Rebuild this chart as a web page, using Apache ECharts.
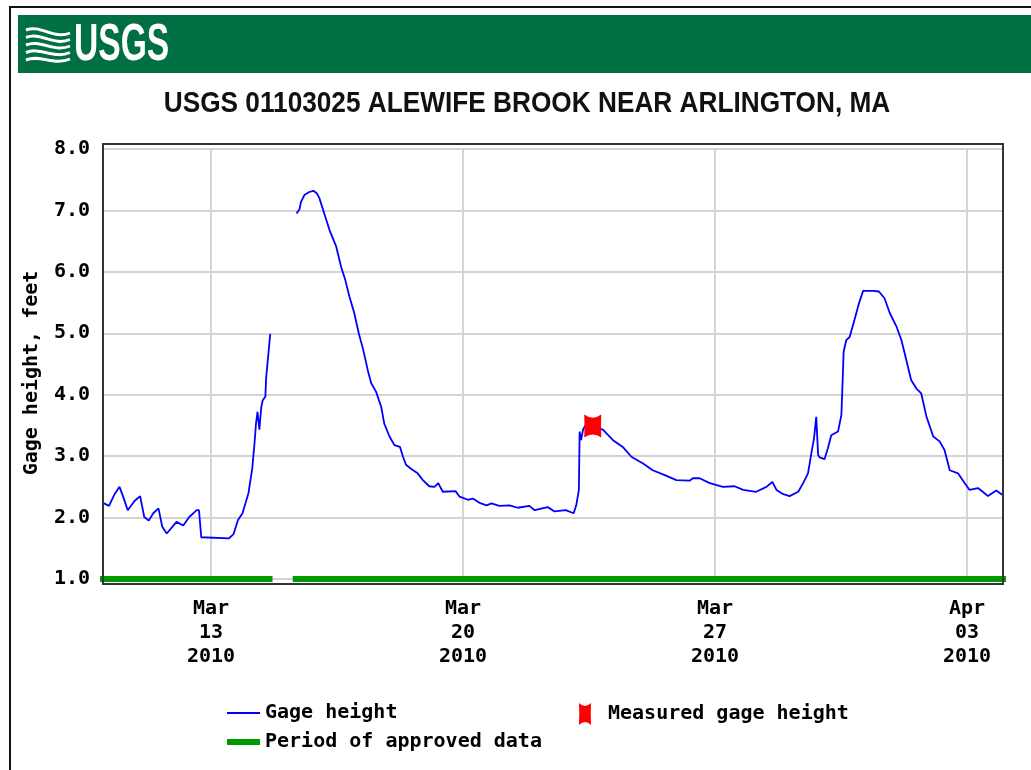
<!DOCTYPE html>
<html>
<head>
<meta charset="utf-8">
<title>USGS 01103025 Alewife Brook near Arlington, MA</title>
<script src="https://cdn.jsdelivr.net/npm/echarts@6/dist/echarts.min.js"></script>
<style>
    html, body { margin: 0; padding: 0; background: #fff; }
    #chart { width: 1031px; height: 770px; }
</style>
</head>
<body>
<div id="chart"></div>
<script>
// gage height, before the gap (times are 2010, local)
const gageTimesA = ['03-10 00:00', '03-10 04:00', '03-10 07:30', '03-10 11:00', '03-10 13:00', '03-10 16:30',
    '03-10 21:00', '03-11 00:45', '03-11 03:30', '03-11 06:30', '03-11 09:30', '03-11 13:00', '03-11 15:30',
    '03-11 18:30', '03-12 01:00', '03-12 05:30', '03-12 09:30', '03-12 14:30', '03-12 16:00', '03-12 17:30',
    '03-13 12:00', '03-13 15:00', '03-13 18:00', '03-13 21:00', '03-14 01:00', '03-14 03:30', '03-14 05:00',
    '03-14 06:00', '03-14 07:00', '03-14 08:15', '03-14 09:30', '03-14 10:30', '03-14 12:15', '03-14 12:45',
    '03-14 14:30', '03-14 15:30']
const gageValuesA = [2.24, 2.19, 2.37, 2.50, 2.37, 2.12,
    2.27, 2.35, 2.01, 1.95, 2.07, 2.15, 1.85,
    1.74, 1.93, 1.87, 2.01, 2.12, 2.12, 1.68,
    1.66, 1.73, 1.96, 2.07, 2.40, 2.80, 3.21,
    3.53, 3.72, 3.43, 3.80, 3.91, 3.97, 4.27,
    4.73, 4.99]

// gage height, after the gap
const gageTimesB = ['03-15 09:00', '03-15 11:00', '03-15 12:00', '03-15 14:15', '03-15 17:30', '03-15 20:15',
    '03-15 22:30', '03-16 00:15', '03-16 03:30', '03-16 07:00', '03-16 11:30', '03-16 14:45', '03-16 17:30',
    '03-16 20:15', '03-16 23:30', '03-17 02:30', '03-17 05:30', '03-17 08:30', '03-17 10:45', '03-17 14:00',
    '03-17 17:30', '03-17 19:30', '03-17 23:00', '03-18 02:15', '03-18 06:00', '03-18 08:00', '03-18 10:00',
    '03-18 13:30', '03-18 17:45', '03-18 21:15', '03-19 01:30', '03-19 05:00', '03-19 07:30', '03-19 10:30',
    '03-19 19:00', '03-19 21:45', '03-20 03:15', '03-20 06:30', '03-20 11:00', '03-20 15:45', '03-20 19:00',
    '03-21 00:15', '03-21 07:00', '03-21 12:30', '03-21 20:15', '03-21 23:45', '03-22 08:30', '03-22 13:00',
    '03-22 20:30', '03-23 01:45', '03-23 03:30', '03-23 05:15', '03-23 05:45', '03-23 06:45', '03-23 08:00',
    '03-23 09:45', '03-23 21:15', '03-24 04:00', '03-24 10:30', '03-24 16:15', '03-25 00:00', '03-25 06:30',
    '03-25 14:30', '03-25 22:15', '03-26 07:00', '03-26 09:15', '03-26 13:45', '03-26 20:30', '03-27 05:15',
    '03-27 13:00', '03-27 18:45', '03-28 03:30', '03-28 10:15', '03-28 14:15', '03-28 17:00', '03-28 21:30',
    '03-29 01:45', '03-29 07:30', '03-29 10:45', '03-29 14:00', '03-29 16:15', '03-29 18:00', '03-29 19:30',
    '03-29 20:45', '03-29 21:45', '03-30 01:00', '03-30 03:15', '03-30 05:30', '03-30 10:00', '03-30 12:15',
    '03-30 13:00', '03-30 13:45', '03-30 15:30', '03-30 17:45', '03-30 21:00', '03-31 00:00', '03-31 02:45',
    '03-31 09:15', '03-31 13:15', '03-31 17:00', '03-31 20:30', '04-01 01:00', '04-01 04:15', '04-01 07:30',
    '04-01 10:45', '04-01 14:15', '04-01 17:30', '04-01 21:00', '04-02 01:30', '04-02 05:45', '04-02 09:00',
    '04-02 12:30', '04-02 18:00', '04-02 22:30', '04-03 01:45', '04-03 07:15', '04-03 09:30', '04-03 14:00',
    '04-03 19:30', '04-03 23:00', '04-04 00:00']
const gageValuesB = [6.95, 7.02, 7.14, 7.25, 7.30, 7.32,
    7.28, 7.20, 6.95, 6.68, 6.41, 6.08, 5.87,
    5.60, 5.33, 5.00, 4.73, 4.40, 4.19, 4.05,
    3.80, 3.53, 3.32, 3.18, 3.15, 2.99, 2.86,
    2.79, 2.72, 2.61, 2.51, 2.50, 2.56, 2.42,
    2.43, 2.34, 2.29, 2.31, 2.24, 2.20, 2.23,
    2.19, 2.20, 2.16, 2.19, 2.12, 2.17, 2.10,
    2.12, 2.07, 2.20, 2.45, 3.40, 3.26, 3.43,
    3.51, 3.43, 3.26, 3.15, 2.99, 2.88, 2.77,
    2.69, 2.61, 2.60, 2.64, 2.64, 2.56, 2.50,
    2.51, 2.45, 2.42, 2.50, 2.58, 2.45, 2.38,
    2.35, 2.42, 2.56, 2.72, 3.05, 3.29, 3.64,
    3.02, 2.98, 2.95, 3.13, 3.34, 3.40, 3.67,
    4.16, 4.70, 4.89, 4.94, 5.22, 5.49, 5.69,
    5.69, 5.68, 5.57, 5.33, 5.11, 4.89, 4.57,
    4.24, 4.10, 4.02, 3.64, 3.32, 3.24, 3.10,
    2.77, 2.72, 2.56, 2.45, 2.48, 2.44, 2.35,
    2.44, 2.38, 2.38]

// field measurement
const measuredTimes = ['03-23 14:30']
const measuredValues = [3.49]

// approved data periods (drawn along 1.0)
const approvedStarts = ['03-10 00:00', '03-15 08:30']
const approvedEnds = ['03-14 15:00', '04-04 00:00']

const tickDates = ['03-13 00:00', '03-20 00:00', '03-27 00:00', '04-03 00:00']
const tickLabels = ['Mar\n13\n2010', 'Mar\n20\n2010', 'Mar\n27\n2010', 'Apr\n03\n2010']

const MONO = '"DejaVu Sans Mono", "Liberation Mono", monospace'
const SANS = '"Liberation Sans", Arial, sans-serif'
// rectangle with notched top and bottom edges
const MARK = 'path://M0,0 Q8,6 16,0 Q15.5,11 16,22 Q8,16 0,22 Q0.5,11 0,0 Z'
const MARK_LEGEND = 'path://M0,0 Q6,6 12,0 Q11.5,11 12,22 Q6,16 0,22 Q0.5,11 0,0 Z'

const toTime = s => new Date('2010/' + s.replace('-', '/')).getTime()
const tickTimes = tickDates.map(toTime)

const gageData = gageTimesA.map((t, i) => [toTime(t), gageValuesA[i]])
    .concat([[toTime('03-14 20:00'), '-']])
    .concat(gageTimesB.map((t, i) => [toTime(t), gageValuesB[i]]))

const approvedData = []
approvedStarts.forEach((s, i) => {
    if (i > 0) approvedData.push([toTime(s) - 1, '-'])
    approvedData.push([toTime(s), 1], [toTime(approvedEnds[i]), 1])
})

const labelFont = { fontFamily: MONO, fontSize: 20, fontWeight: 'bold', color: '#000' }
const gridLine = { show: true, lineStyle: { color: '#d4d4d4', width: 2 } }

const chart = echarts.init(document.getElementById('chart'), null, { renderer: 'canvas' })

// wavy lines of the logo
const waves = [0, 1, 2, 3, 4].map(i => ({
    type: 'bezierCurve',
    shape: {
        x1: 26, y1: 30 + i * 7.5, x2: 70, y2: 33 + i * 6.5,
        cpx1: 40, cpy1: 24 + i * 7.5, cpx2: 54, cpy2: 40 + i * 6.5
    },
    style: { stroke: '#fff', lineWidth: 3, fill: null }
}))

chart.setOption({
    backgroundColor: '#fff',
    animation: false,
    grid: { left: 103, right: 28, top: 149, bottom: 191, outerBoundsMode: 'none' },
    // x is a plain value axis in ms so the weekly ticks can sit on Mar 13, 20, 27, Apr 3
    xAxis: {
        type: 'value',
        min: toTime('03-10 00:00'),
        max: toTime('04-04 00:00'),
        axisLine: { show: false },
        axisTick: { show: false, customValues: tickTimes },
        axisLabel: Object.assign({
            customValues: tickTimes,
            margin: 18,
            lineHeight: 24,
            formatter: v => {
                let best = 0
                tickTimes.forEach((t, i) => { if (Math.abs(t - v) < Math.abs(tickTimes[best] - v)) best = i })
                return tickLabels[best]
            }
        }, labelFont),
        splitLine: gridLine
    },
    yAxis: {
        type: 'value',
        min: 1,
        max: 8,
        interval: 1,
        axisLine: { show: false },
        axisTick: { show: false },
        axisLabel: Object.assign({ margin: 13, formatter: v => v.toFixed(1) }, labelFont),
        splitLine: gridLine
    },
    legend: [
        {
            data: [{ name: 'Gage height', icon: 'rect' }],
            left: 222, top: 698, itemWidth: 33, itemHeight: 2,
            selectedMode: false, textStyle: labelFont
        },
        {
            data: [{ name: 'Measured gage height', icon: MARK_LEGEND }],
            left: 574, top: 698, itemWidth: 12, itemHeight: 22,
            selectedMode: false, textStyle: Object.assign({ padding: [0, 0, 0, 12] }, labelFont)
        },
        {
            data: [{ name: 'Period of approved data', icon: 'rect' }],
            left: 222, top: 727, itemWidth: 33, itemHeight: 6,
            selectedMode: false, textStyle: labelFont
        }
    ],
    graphic: [
        // page frame
        { type: 'rect', shape: { x: 10, y: 7, width: 1040, height: 780 }, style: { fill: null, stroke: '#111', lineWidth: 2 }, silent: true },
        // header band
        { type: 'rect', shape: { x: 18, y: 15, width: 1020, height: 58 }, style: { fill: '#006f41' }, silent: true },
        ...waves,
        {
            type: 'text', x: 74, y: 46, scaleX: 0.646,
            style: { text: 'USGS', fill: '#fff', font: 'bold 52px ' + SANS, textVerticalAlign: 'middle' }
        },
        {
            type: 'text', x: 527, y: 104, scaleX: 0.874,
            style: {
                text: 'USGS 01103025 ALEWIFE BROOK NEAR ARLINGTON, MA', fill: '#111',
                font: 'bold 30px ' + SANS, textAlign: 'center', textVerticalAlign: 'middle'
            }
        },
        {
            type: 'text', x: 32, y: 373, rotation: Math.PI / 2,
            style: {
                text: 'Gage height, feet', fill: '#000', font: 'bold 20px ' + MONO,
                textAlign: 'center', textVerticalAlign: 'middle'
            }
        },
        // plot frame
        { type: 'rect', shape: { x: 103, y: 144, width: 900, height: 440 }, style: { fill: null, stroke: '#333', lineWidth: 2 }, silent: true, z: 10 }
    ],
    series: [
        {
            name: 'Period of approved data',
            type: 'line',
            data: approvedData,
            showSymbol: false,
            symbol: 'none',
            clip: false,
            itemStyle: { color: '#009900' },
            lineStyle: { color: '#009900', width: 6, cap: 'square' },
            z: 3
        },
        {
            name: 'Gage height',
            type: 'line',
            data: gageData,
            showSymbol: false,
            symbol: 'none',
            connectNulls: false,
            itemStyle: { color: '#0000ff' },
            lineStyle: { color: '#0000ff', width: 1.8 },
            z: 4
        },
        {
            name: 'Measured gage height',
            type: 'scatter',
            data: measuredTimes.map((t, i) => [toTime(t), measuredValues[i]]),
            symbol: MARK,
            symbolSize: [17, 23],
            itemStyle: { color: '#ff0000', opacity: 1 },
            z: 5
        }
    ]
})
</script>
</body>
</html>
